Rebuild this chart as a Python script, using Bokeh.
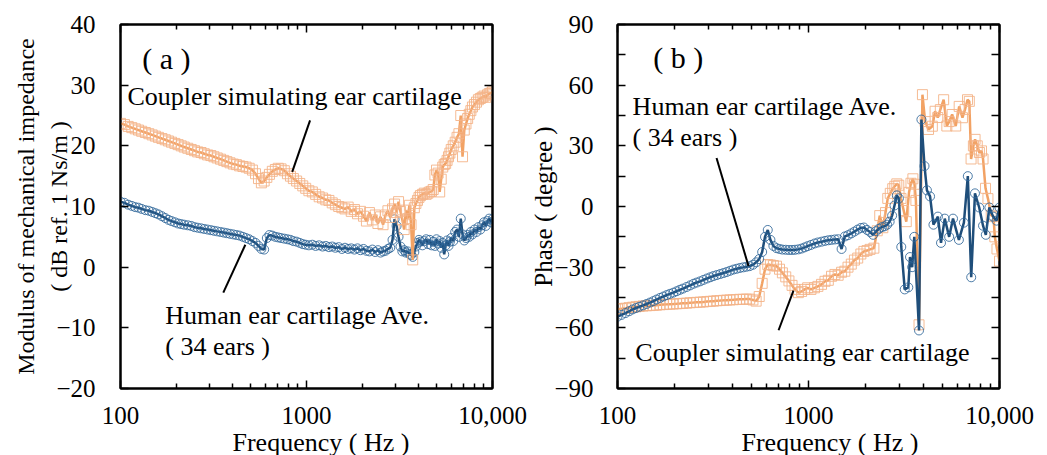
import math
from bokeh.plotting import figure
from bokeh.layouts import row
from bokeh.models import Range1d, FixedTicker, LogAxis, LinearAxis, Label, Title
from bokeh.embed import file_html
from bokeh.resources import INLINE

FONT = "Liberation Serif"

# ---------------- data ----------------
# shared low-frequency grid (Hz)
F_LOW = [100, 105, 110, 115, 120, 125, 130, 136, 142, 148,
         154, 160, 167, 174, 181, 188, 196, 204, 212, 220,
         230, 240, 250, 260, 271, 282, 294, 306, 318, 331,
         345, 359, 373, 388, 404, 420, 437, 455, 473, 492,
         512, 532, 552, 572, 592, 612, 632, 655, 680, 705,
         730, 760, 790, 820, 850, 885, 920, 955, 990, 1030,
         1075, 1120, 1170, 1220, 1270, 1320, 1375, 1430, 1490, 1550,
         1610, 1675, 1740, 1810, 1880, 1950]

# high-frequency grid for panel (a)
F_HI_A = [2025, 2100, 2180, 2260,
          2340, 2420, 2500, 2580, 2660, 2740, 2820, 2900, 2975, 3050,
          3125, 3200, 3275, 3350, 3425, 3500, 3575, 3650, 3725, 3800,
          3875, 3950, 4025, 4100, 4200, 4300, 4400, 4500, 4600, 4700,
          4800, 4900, 5000, 5100, 5200, 5300, 5400, 5500, 5600, 5700,
          5800, 5900, 6000, 6150, 6300, 6450, 6600, 6750, 6900, 7050,
          7200, 7350, 7500, 7650, 7800, 8000, 8200, 8400, 8600, 8800,
          9000, 9200, 9400, 9600, 9800, 10000]

# (a) modulus, coupler (dB)
mod_coupler_low = [23.7, 23.5, 23.2, 23.0, 22.8, 22.6, 22.4, 22.2, 22.0, 21.8,
                   21.6, 21.4, 21.2, 21.0, 20.8, 20.6, 20.4, 20.2, 20.0, 19.8,
                   19.6, 19.4, 19.2, 19.0, 18.9, 18.7, 18.5, 18.4, 18.2, 18.0,
                   17.8, 17.6, 17.4, 17.2, 17.0, 16.9, 16.7, 16.6, 16.5, 16.3,
                   16.0, 15.4, 14.6, 13.9, 14.2, 14.8, 15.3, 15.8, 16.1, 16.3,
                   16.2, 15.9, 15.4, 15.0, 14.6, 14.2, 13.8, 13.4, 13.0, 12.6,
                   12.4, 12.0, 11.6, 11.4, 11.1, 11.0, 10.6, 10.3, 10.0, 9.8,
                   9.6, 9.9, 9.2, 9.5, 8.8, 9.2]
mod_coupler_hi = [8.4, 7.6, 9.0, 7.8,
                  8.6, 7.2, 8.3, 7.0, 8.6, 9.3, 8.2, 9.6, 10.4, 9.0,
                  10.8, 9.2, 7.8, 6.2, 9.4, 8.0, 10.2, 7.0, 1.2, 9.8,
                  10.5, 11.0, 11.5, 11.8, 12.0, 12.2, 12.0, 12.2, 12.4, 12.5,
                  12.8, 15.2, 16.0, 15.5, 12.4, 14.5, 16.5, 16.9, 17.1, 17.6,
                  18.2, 18.8, 19.4, 20.0, 20.6, 21.4, 22.0, 25.0, 18.2, 22.6,
                  23.6, 24.5, 25.2, 25.8, 26.4, 26.8, 27.2, 27.6, 27.8, 28.0,
                  28.2, 28.0, 28.4, 28.6, 28.7, 28.9]

# (a) modulus, human ear cartilage average (dB)
mod_human_low = [10.8, 10.6, 10.3, 10.1, 9.9, 9.8, 9.6, 9.4, 9.3, 9.1,
                 8.9, 8.7, 8.4, 8.1, 7.8, 7.6, 7.4, 7.2, 7.1, 7.0,
                 6.9, 6.8, 6.6, 6.5, 6.4, 6.3, 6.2, 6.1, 6.0, 5.9,
                 5.8, 5.7, 5.6, 5.5, 5.4, 5.3, 5.2, 5.0, 4.8, 4.6,
                 4.3, 4.0, 3.5, 3.0, 2.9, 4.8, 5.3, 5.2, 5.0, 4.9,
                 4.8, 4.7, 4.6, 4.5, 4.3, 4.2, 4.0, 3.8, 3.7, 3.6,
                 3.7, 3.5, 3.6, 3.4, 3.5, 3.3, 3.4, 3.2, 3.3, 3.0,
                 3.2, 3.0, 3.1, 2.9, 3.1, 2.8]
mod_human_hi = [3.0, 2.7, 2.6, 2.9,
                2.5, 2.8, 2.4, 2.6, 2.7, 3.0, 3.2, 4.5, 7.9, 6.8,
                5.0, 3.4, 2.6, 2.8, 2.4, 2.6, 2.2, 2.0, 1.7, 2.5,
                3.4, 4.0, 4.5, 4.2, 3.6, 4.3, 4.6, 3.8, 4.5, 3.6,
                4.2, 3.5, 4.6, 3.9, 4.3, 3.2, 4.0, 2.1, 3.6, 4.4,
                3.5, 4.2, 4.8, 4.3, 5.8, 6.2, 5.0, 8.0, 5.4, 4.4,
                4.8, 5.3, 5.0, 5.8, 5.4, 6.2, 5.8, 6.6, 6.2, 6.9,
                7.4, 6.8, 7.6, 8.0, 7.4, 7.9]

# (b) phase, human ear cartilage average (degree)
ph_human_low = [-54.5, -53.6, -52.7, -51.8, -50.9, -50.2, -49.6, -48.9, -48.2, -47.5,
                -46.8, -46.0, -45.2, -44.5, -43.8, -43.2, -42.6, -41.9, -41.2, -40.6,
                -39.8, -39.0, -38.2, -37.6, -37.0, -36.3, -35.6, -35.0, -34.4, -33.9,
                -33.4, -32.9, -32.4, -31.8, -31.2, -30.8, -30.4, -30.1, -29.8, -29.5,
                -28.8, -27.6, -26.0, -22.5, -15.0, -11.6, -16.5, -19.5, -20.6, -21.0,
                -21.3, -21.4, -21.5, -21.5, -21.4, -21.2, -20.8, -20.2, -19.6, -19.0,
                -18.3, -17.8, -17.4, -17.0, -16.7, -16.5, -16.3, -16.2, -21.0, -14.8,
                -14.2, -13.3, -12.4, -11.4, -10.6, -10.4]
ph_human_hi_f = [2025, 2100, 2180, 2260, 2340, 2420, 2500, 2580, 2660, 2740,
                 2820, 2900, 2975, 3060, 3190, 3330, 3400, 3490, 3580, 3790,
                 3900, 4050, 4170, 4330, 4510, 4760, 4940, 5170, 5450, 5710,
                 6130, 6510, 6825, 7110, 7440, 7830, 8200, 8480, 8850, 9265,
                 9645, 10000]
ph_human_hi_v = [-11.6, -12.6, -14.0, -12.2, -11.0, -10.2, -9.8, -9.0, -7.5, -4.5,
                 0.5, 5.5, 4.0, -20.0, -41.0, -40.0, -25.0, -30.0, -15.0, -61.3,
                 43.0, 20.0, 8.0, 5.0, -9.0, -5.0, -18.0, -6.0, -15.0, -6.0,
                 -16.5, -8.0, 15.0, -35.0, 6.5, -0.5, -9.5, -14.0, -0.5, -5.0,
                 -7.0, -0.5]

# (b) phase, coupler (degree)
ph_coupler_low = [-50.7, -50.5, -50.3, -50.0, -49.8, -49.6, -49.4, -49.2, -49.1, -49.0,
                  -48.9, -48.8, -48.6, -48.5, -48.4, -48.3, -48.2, -48.1, -48.0, -47.9,
                  -47.8, -47.6, -47.5, -47.4, -47.3, -47.2, -47.0, -46.9, -46.8, -46.6,
                  -46.5, -46.4, -46.3, -46.2, -46.1, -46.0, -45.9, -45.9, -45.8, -45.8,
                  -46.2, -46.8, -44.5, -38.0, -31.0, -28.7, -28.9, -29.2, -29.5, -31.0,
                  -32.8, -34.8, -36.8, -39.0, -41.0, -42.6, -42.0, -41.0, -40.2, -41.0,
                  -40.2, -39.5, -38.5, -37.0, -36.5, -34.5, -33.6, -34.0, -32.5, -32.0,
                  -30.0, -28.5, -26.5, -25.5, -23.5, -22.2]
ph_coupler_hi_f = [2025, 2100, 2200, 2290, 2360, 2450, 2530, 2600, 2680, 2760,
                   2830, 2900, 2970, 3050, 3150, 3250, 3360, 3440, 3520, 3590,
                   3650, 3790, 3950, 4080, 4250, 4450, 4600, 4750, 4900, 5100,
                   5300, 5450, 5650, 5900, 6150, 6400, 6600, 6800, 6950, 7100,
                   7300, 7450, 7650, 7850, 8050, 8200, 8450, 8700, 9050, 9300,
                   9450, 9700, 10000]
ph_coupler_hi_v = [-21.8, -21.2, -20.6, -12.0, -4.5, -10.5, -3.0, 4.0, 6.5, 8.8,
                   10.0, 11.2, 10.5, 4.0, -2.0, -7.5, 7.0, 11.5, 13.7, 11.0,
                   3.0, -58.5, 55.3, 42.0, 38.1, 39.7, 47.1, 44.0, 47.9, 52.8,
                   39.8, 42.0, 45.5, 39.8, 49.5, 43.9, 48.0, 52.8, 52.0, 23.5,
                   30.0, 33.2, 30.0, 26.7, 27.5, 23.5, 9.0, 3.9, -4.3, -5.0,
                   -15.0, -21.0, -27.0]

X_TICKS = [100, 1000, 10000]
X_MINOR = [200, 300, 400, 500, 600, 700, 800, 900,
           2000, 3000, 4000, 5000, 6000, 7000, 8000, 9000]
X_LABELS = {100: "100", 1000: "1000", 10000: "10,000"}

A_YTICKS = [-20, -10, 0, 10, 20, 30, 40]
A_YLABELS = {-20: "\u221220", -10: "\u221210", 0: "0", 10: "10", 20: "20", 30: "30", 40: "40"}
B_YTICKS = [-90, -60, -30, 0, 30, 60, 90]
B_YMINOR = [-75, -45, -15, 15, 45, 75]
B_YLABELS = {-90: "\u221290", -60: "\u221260", -30: "\u221230", 0: "0", 30: "30", 60: "60", 90: "90"}

BLUE_LINE = "#1f4e7a"
BLUE_MARK = "#2f6699"
ORANGE_LINE = "#f2a264"
ORANGE_MARK = "#f4b488"

FIG_H = 455
W_A = 527
W_B = 518


def style_axis(ax, standoff, minor_len):
    ax.axis_line_width = 2
    ax.axis_line_color = "black"
    ax.major_tick_in = 8
    ax.major_tick_out = 0
    ax.minor_tick_in = minor_len
    ax.minor_tick_out = 0
    ax.major_tick_line_width = 1.5
    ax.minor_tick_line_width = 1.5
    ax.major_tick_line_color = "black"
    ax.minor_tick_line_color = "black"
    ax.major_label_text_font = FONT
    ax.major_label_text_font_size = "25px"
    ax.major_label_text_color = "black"
    ax.major_label_standoff = standoff


def make_fig(width, yr, yticks, yminor, ylabels, bl, br, bt, bb, ystand, yminor_len):
    p = figure(width=width, height=FIG_H, x_axis_type="log",
               x_range=Range1d(100, 10000), y_range=Range1d(*yr),
               output_backend="svg", toolbar_location=None,
               min_border_left=bl, min_border_right=br,
               min_border_top=bt, min_border_bottom=bb)
    p.grid.visible = False
    p.outline_line_color = "black"
    p.outline_line_width = 2
    xt = FixedTicker(ticks=X_TICKS, minor_ticks=X_MINOR)
    yt = FixedTicker(ticks=yticks, minor_ticks=yminor)
    p.xaxis.ticker = xt
    p.yaxis.ticker = yt
    p.xaxis.major_label_overrides = X_LABELS
    p.yaxis.major_label_overrides = ylabels
    top = LogAxis(ticker=xt, major_label_overrides={t: "" for t in X_TICKS})
    right = LinearAxis(ticker=yt, major_label_overrides={t: "" for t in yticks})
    p.add_layout(top, "above")
    p.add_layout(right, "right")
    for ax in p.xaxis:
        style_axis(ax, 18, 5)
    for ax in p.yaxis:
        style_axis(ax, ystand, yminor_len)
    top.major_label_text_font_size = "1px"
    right.major_label_text_font_size = "1px"
    return p


def add_text(p, x, y, text, size="26px"):
    p.add_layout(Label(x=x, y=y, text=text, text_font=FONT, text_font_size=size,
                       text_color="black", text_align="left", text_baseline="middle"))


def add_title(p, text, side, size, align, offset, standoff):
    p.add_layout(Title(text=text, text_font=FONT, text_font_size=size,
                       text_font_style="normal", text_color="black",
                       align=align, offset=offset, standoff=standoff), side)


def draw_series(p, f, v, kind):
    if kind == "human":
        p.line(f, v, line_color=BLUE_LINE, line_width=2.5)
        p.scatter(f, v, marker="circle", size=9, fill_color=None,
                  line_color=BLUE_MARK, line_width=1, line_alpha=0.85)
    else:
        p.line(f, v, line_color=ORANGE_LINE, line_width=2.5)
        p.scatter(f, v, marker="square", size=10, fill_color=None,
                  line_color=ORANGE_MARK, line_width=1, line_alpha=0.9)


# ---------------- panel (a) ----------------
pa = make_fig(W_A, (-20, 40), A_YTICKS, [], A_YLABELS, 120, W_A - 492, 24, FIG_H - 389, 25, 8)
fa = F_LOW + F_HI_A
draw_series(pa, fa, mod_human_low + mod_human_hi, "human")
draw_series(pa, fa, mod_coupler_low + mod_coupler_hi, "coupler")
pa.segment(x0=[1045, 469], y0=[24.2, 3.7], x1=[838, 357], y1=[15.7, -4.2],
           line_color="black", line_width=2)
add_text(pa, 131, 34.4, "( a )", size="30px")
add_text(pa, 109, 28.2, "Coupler simulating ear cartilage")
add_text(pa, 174, -7.9, "Human ear cartilage Ave.")
add_text(pa, 174, -13.1, "( 34 ears )")
ya = pa.yaxis[0]
ya.axis_label = "( dB ref. 1 Ns/m )"
ya.axis_label_text_font = FONT
ya.axis_label_text_font_size = "24px"
ya.axis_label_text_font_style = "normal"
ya.axis_label_text_color = "black"
ya.axis_label_standoff = -19
add_title(pa, "Modulus of mechanical impedance", "left", "24px", "center", 0, 10)
add_title(pa, "Frequency ( Hz )", "below", "26px", "left", 112, -2)

# ---------------- panel (b) ----------------
pb = make_fig(W_B, (-90, 90), B_YTICKS, B_YMINOR, B_YLABELS, 616 - W_A, W_A + W_B - 999, 24, FIG_H - 392, 24, 8)
draw_series(pb, F_LOW + ph_coupler_hi_f, ph_coupler_low + ph_coupler_hi_v, "coupler")
draw_series(pb, F_LOW + ph_human_hi_f, ph_human_low + ph_human_hi_v, "human")
pb.segment(x0=[330, 697], y0=[24, -61.2], x1=[485, 834], y1=[-29.4, -41.6],
           line_color="black", line_width=2)
add_text(pb, 154, 73.9, "( b )", size="30px")
add_text(pb, 120, 49.4, "Human ear cartilage Ave.")
add_text(pb, 120, 34.2, "( 34 ears )")
add_text(pb, 124, -72.4, "Coupler simulating ear cartilage")
yb = pb.yaxis[0]
yb.axis_label = "Phase ( degree )"
yb.axis_label_text_font = FONT
yb.axis_label_text_font_size = "25px"
yb.axis_label_text_font_style = "normal"
yb.axis_label_text_color = "black"
yb.axis_label_standoff = -6
add_title(pb, "Frequency ( Hz )", "below", "26px", "left", 124, -2)

layout = row(pa, pb)
open("out.html", "w").write(file_html(layout, INLINE))
